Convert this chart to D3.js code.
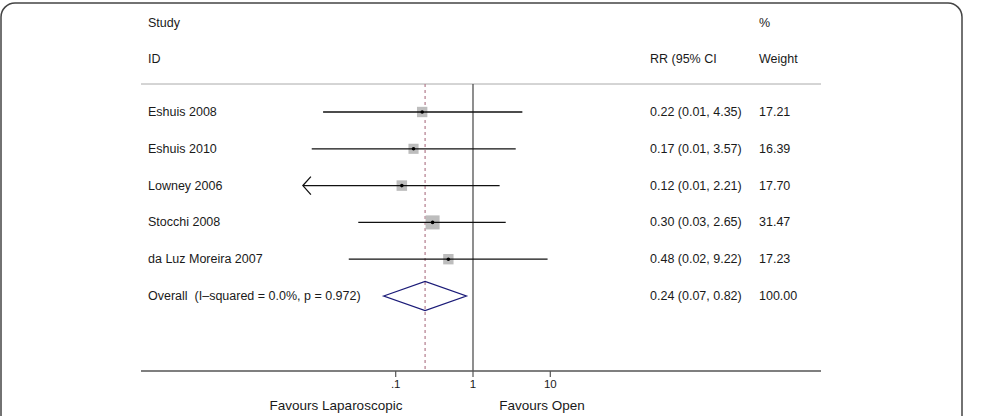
<!DOCTYPE html>
<html>
<head>
<meta charset="utf-8">
<script src="https://cdn.jsdelivr.net/npm/d3@7"></script>
<style>
  body { margin: 0; background: #fff; }
  text { font-family: "Liberation Sans", Arial, sans-serif; font-size: 12.5px; fill: #1a1a1a; white-space: pre; }
</style>
</head>
<body>
<svg width="981" height="416"></svg>
<script>
// study data
const studies = ["Eshuis 2008", "Eshuis 2010", "Lowney 2006", "Stocchi 2008", "da Luz Moreira 2007"];
const rr = [0.22, 0.17, 0.12, 0.30, 0.48];
const lower = [0.0115, 0.0082, 0.0055, 0.0328, 0.0247];
const upper = [4.35, 3.57, 2.21, 2.65, 9.22];
const ciText = ["0.22 (0.01, 4.35)", "0.17 (0.01, 3.57)", "0.12 (0.01, 2.21)", "0.30 (0.03, 2.65)", "0.48 (0.02, 9.22)"];
const weights = [17.21, 16.39, 17.70, 31.47, 17.23];
const weightText = ["17.21", "16.39", "17.70", "31.47", "17.23"];

const overall = {label: "Overall  (I\u2013squared = 0.0%, p = 0.972)", rr: 0.24, lo: 0.07, hi: 0.82, ci: "0.24 (0.07, 0.82)", w: "100.00"};
const xTicks = [0.1, 1, 10];
const xMin = 0.0063; // left clip, arrows beyond

const svg = d3.select("svg");

// frame
svg.append("rect")
  .attr("x", 1).attr("y", 3).attr("width", 961).attr("height", 440)
  .attr("rx", 14)
  .attr("fill", "none").attr("stroke", "#444").attr("stroke-width", 1.5);

const x = d3.scaleLog().domain([0.01, 10]).range([318.4, 550.3]);
const rowY = i => 112 + i * 36.8;
const axisY = 371;

// headers
svg.append("text").attr("x", 148).attr("y", 27).text("Study");
svg.append("text").attr("x", 148).attr("y", 63).text("ID");
svg.append("text").attr("x", 650).attr("y", 63).text("RR (95% CI");
svg.append("text").attr("x", 759).attr("y", 27).text("%");
svg.append("text").attr("x", 759).attr("y", 63).text("Weight");

svg.append("line")
  .attr("x1", 141).attr("x2", 821).attr("y1", 84).attr("y2", 84)
  .attr("stroke", "#aaa").attr("stroke-width", 1);

// null line
svg.append("line")
  .attr("x1", x(1)).attr("x2", x(1)).attr("y1", 84).attr("y2", axisY)
  .attr("stroke", "#444").attr("stroke-width", 1.2);

// overall effect dashed line
svg.append("line")
  .attr("x1", x(overall.rr)).attr("x2", x(overall.rr)).attr("y1", 84).attr("y2", axisY)
  .attr("stroke", "#b27b8c").attr("stroke-width", 1.2).attr("stroke-dasharray", "3,3");

// study rows
studies.forEach((s, i) => {
  const y = rowY(i);
  const lo = Math.max(lower[i], xMin);
  svg.append("text").attr("x", 148).attr("y", y + 4).text(s);
  svg.append("text").attr("x", 650).attr("y", y + 4).text(ciText[i]);
  svg.append("text").attr("x", 759).attr("y", y + 4).text(weightText[i]);

  const side = 2.5 * Math.sqrt(weights[i]);
  svg.append("rect")
    .attr("x", x(rr[i]) - side / 2).attr("y", y - side / 2)
    .attr("width", side).attr("height", side)
    .attr("fill", "#bdbdbd");

  svg.append("line")
    .attr("x1", x(lo)).attr("x2", x(upper[i])).attr("y1", y).attr("y2", y)
    .attr("stroke", "#111").attr("stroke-width", 1.3);

  if (lower[i] < xMin) {
    svg.append("path")
      .attr("d", `M${x(xMin) + 8},${y - 9}L${x(xMin)},${y}L${x(xMin) + 8},${y + 9}`)
      .attr("fill", "none").attr("stroke", "#111").attr("stroke-width", 1.3);
  }

  svg.append("circle").attr("cx", x(rr[i])).attr("cy", y).attr("r", 1.8).attr("fill", "#000");
});

// overall
const oy = rowY(studies.length);
svg.append("text").attr("x", 148).attr("y", oy + 4).text(overall.label);
svg.append("text").attr("x", 650).attr("y", oy + 4).text(overall.ci);
svg.append("text").attr("x", 759).attr("y", oy + 4).text(overall.w);
svg.append("path")
  .attr("d", `M${x(overall.lo)},${oy}L${x(overall.rr)},${oy - 14.5}L${x(overall.hi)},${oy}L${x(overall.rr)},${oy + 14.5}Z`)
  .attr("fill", "none").attr("stroke", "#1b1b78").attr("stroke-width", 1.3);

// x axis
svg.append("line")
  .attr("x1", 141).attr("x2", 821).attr("y1", axisY).attr("y2", axisY)
  .attr("stroke", "#555").attr("stroke-width", 1.3);

const ax = svg.append("g");
ax.selectAll("line.tick").data(xTicks).enter().append("line")
  .attr("x1", d => x(d)).attr("x2", d => x(d))
  .attr("y1", axisY).attr("y2", axisY + 6)
  .attr("stroke", "#555").attr("stroke-width", 1.2);
ax.selectAll("text").data(xTicks).enter().append("text")
  .attr("x", d => x(d)).attr("y", axisY + 17)
  .attr("text-anchor", "middle").style("font-size", "11.5px")
  .text(d => d === 0.1 ? ".1" : d3.format("d")(d));

svg.append("text").attr("x", 336).attr("y", 410).attr("text-anchor", "middle")
  .style("font-size", "13.5px").text("Favours Laparoscopic");
svg.append("text").attr("x", 542).attr("y", 410).attr("text-anchor", "middle")
  .style("font-size", "13.5px").text("Favours Open");
</script>
</body>
</html>
